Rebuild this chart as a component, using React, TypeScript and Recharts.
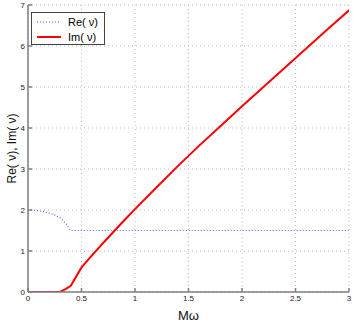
import React from "react";
import {
  LineChart,
  Line,
  XAxis,
  YAxis,
  CartesianGrid,
} from "recharts";

const mw = [0, 0.05, 0.1, 0.15, 0.2, 0.25, 0.3, 0.35, 0.4, 0.5, 0.6, 0.7, 0.8, 0.9, 1.0, 1.2, 1.4, 1.6, 1.8, 2.0, 2.2, 2.4, 2.6, 2.8, 3.0];
const reNu = [2.0, 2.0, 1.98, 1.96, 1.92, 1.88, 1.81, 1.68, 1.5, 1.5, 1.5, 1.5, 1.5, 1.5, 1.5, 1.5, 1.5, 1.5, 1.5, 1.5, 1.5, 1.5, 1.5, 1.5, 1.5];
const imNu = [0, 0, 0, 0, 0, 0, 0, 0.07, 0.15, 0.6, 0.9, 1.19, 1.47, 1.75, 2.02, 2.55, 3.07, 3.57, 4.05, 4.53, 5.0, 5.47, 5.94, 6.41, 6.87];
const xTicks = [0, 0.5, 1, 1.5, 2, 2.5, 3];
const yTicks = [0, 1, 2, 3, 4, 5, 6, 7];
const seriesNames = ["Re( \u03bd)", "Im( \u03bd)"];

const data = mw.map((x, i) => ({ x, re: reNu[i], im: imNu[i] }));

const FONT = "'Liberation Sans', Arial, sans-serif";

const LegendBox = () => (
  <div
    style={{
      position: "absolute",
      left: 31,
      top: 12,
      width: 72,
      height: 31,
      border: "1px solid #444",
      background: "#fff",
      fontFamily: FONT,
      fontSize: 11,
      color: "#000",
      boxSizing: "content-box",
    }}
  >
    <div style={{ display: "flex", alignItems: "center", height: 15, marginTop: 1 }}>
      <svg width={34} height={10}>
        <line x1={5} y1={5} x2={29} y2={5} stroke="#5a5aff" strokeWidth={1} strokeDasharray="1 2" />
      </svg>
      <span style={{ marginLeft: 2, whiteSpace: "pre" }}>{seriesNames[0]}</span>
    </div>
    <div style={{ display: "flex", alignItems: "center", height: 15 }}>
      <svg width={34} height={10}>
        <line x1={5} y1={5} x2={29} y2={5} stroke="#ff0000" strokeWidth={2} />
      </svg>
      <span style={{ marginLeft: 2, whiteSpace: "pre" }}>{seriesNames[1]}</span>
    </div>
  </div>
);

const tickStyle = { fontSize: 8, fill: "#222", fontFamily: FONT };

export default function App() {
  return (
    <div style={{ position: "absolute", left: 0, top: 0, width: 354, height: 327, background: "#fff" }}>
      <LineChart width={354} height={327} data={data} margin={{ top: 5, right: 5, bottom: 0, left: 0 }}>
        <CartesianGrid
          stroke="#bdbdbd"
          strokeDasharray="1 3"
          horizontalValues={yTicks}
          verticalValues={xTicks}
        />
        <XAxis
          xAxisId="top"
          orientation="top"
          type="number"
          dataKey="x"
          domain={[0, 3]}
          ticks={xTicks}
          height={0}
          tick={() => <g />}
          tickSize={-4}
          stroke="#444"
          allowDataOverflow
        />
        <YAxis
          yAxisId="right"
          orientation="right"
          type="number"
          domain={[0, 7]}
          ticks={yTicks}
          width={0}
          tick={() => <g />}
          tickSize={-4}
          stroke="#444"
          allowDataOverflow
        />
        <XAxis
          type="number"
          dataKey="x"
          domain={[0, 3]}
          ticks={xTicks}
          height={35}
          tickSize={-4}
          tickMargin={7}
          tick={tickStyle}
          stroke="#7f7f7f"
          strokeWidth={1.5}
          label={{ value: "M\u03c9", position: "insideBottom", offset: 7, fontSize: 13, fill: "#111", fontFamily: FONT }}
          allowDataOverflow
        />
        <YAxis
          type="number"
          domain={[0, 7]}
          ticks={yTicks}
          width={28}
          tickSize={-4}
          tickMargin={7}
          tick={tickStyle}
          stroke="#7f7f7f"
          strokeWidth={1.5}
          label={{ value: "Re( \u03bd), Im( \u03bd)", angle: -90, position: "insideLeft", offset: 12, style: { textAnchor: "middle", whiteSpace: "pre" }, fontSize: 12, fill: "#111", fontFamily: FONT }}
          allowDataOverflow
        />
        <Line
          type="linear"
          dataKey="re"
          stroke="#5a5aff"
          strokeWidth={1.2}
          strokeDasharray="1 2"
          dot={false}
          isAnimationActive={false}
        />
        <Line
          type="linear"
          dataKey="im"
          stroke="#ff0000"
          strokeWidth={2}
          dot={false}
          isAnimationActive={false}
        />
      </LineChart>
      <LegendBox />
    </div>
  );
}
